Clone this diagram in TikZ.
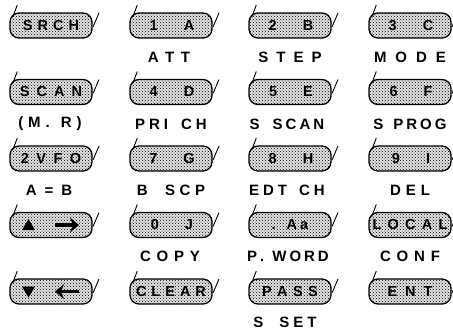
\documentclass[tikz,border=0pt]{standalone}
\usepackage{fontspec}
\setmainfont{Liberation Sans}
\usetikzlibrary{patterns,arrows.meta,calc}
\makeatletter
\newcommand\spaced[3][0pt]{\def\sp@gap{#2}\def\sp@wgap{#1}\sp@aux#3\relax}
\def\sp@aux#1{\ifx#1\relax\unskip\else\ifx#1|\hspace{\sp@wgap}\else#1\hspace{\sp@gap}\fi\expandafter\sp@aux\fi}
\makeatother
\tikzset{
  keybtn/.style={draw, line width=1.3pt, rounded corners=9pt, minimum width=82pt,
    minimum height=25pt, inner sep=0pt, preaction={fill=gray!22},
    pattern=crosshatch dots, pattern color=black,
    font=\bfseries\fontsize{14.5}{14.5}\selectfont},
  tickline/.style={line width=0.9pt},
  lbl/.style={inner sep=0pt, font=\bfseries\fontsize{15}{15}\selectfont},
  glyph/.style={fill=black},
  fatarrow/.style={line width=3.8pt, -{Stealth[length=9pt,width=15pt,inset=3pt]}}
}
\newcommand\kbtn[4]{%
  \node[keybtn] (#1) at (#2,#3) {#4};
  \draw[tickline] ($(#1.center)+(-38.3,-8.5)$) -- ++(4.6,-12);
  \draw[tickline] ($(#1.center)+(42,1.5)$) -- ++(6,-14);
}
\newcommand\two[2]{\hspace{2pt}#1\hspace{26pt}#2}
\begin{document}
\begin{tikzpicture}[x=1pt,y=-1pt]
\useasboundingbox (0,0) rectangle (453,333);
% row 1
\kbtn{srch}{51}{25.5}{\spaced{5pt}{SRCH}}
\kbtn{ka}{171}{25.5}{\two{1}{A}}
\kbtn{kb}{290}{25.5}{\two{2}{B}}
\kbtn{kc}{410}{25.5}{\two{3}{C}}
\node[lbl] (latt) at (169,57) {\spaced{6.5pt}{ATT}};
\node[lbl] (lstep) at (290,57) {\spaced{8pt}{STEP}};
\node[lbl] (lmode) at (410,57) {\spaced{9pt}{MODE}};
% row 2
\kbtn{scan}{51}{92}{\spaced{7pt}{SCAN}}
\kbtn{kd}{171}{92}{\two{4}{D}}
\kbtn{ke}{290}{92}{\two{5}{E}}
\kbtn{kf}{410}{92}{\two{6}{F}}
\node[lbl] (lmr) at (50,124) {\spaced[6pt]{5pt}{(M.|R)}};
\node[lbl] (lpri) at (171,124) {\spaced[9pt]{4pt}{PRI|CH}};
\node[lbl] (lss) at (287,124) {\spaced[10pt]{3pt}{S|SCAN}};
\node[lbl] (lsp) at (410,124) {\spaced[7pt]{3pt}{S|PROG}};
% row 3
\kbtn{vfo}{51}{158.5}{\spaced{7.5pt}{2VFO}}
\kbtn{kg}{171}{158.5}{\two{7}{G}}
\kbtn{kh}{290}{158.5}{\two{8}{H}}
\kbtn{ki}{410}{158.5}{\two{9}{I}}
\node[lbl] (lab) at (49,190) {\spaced{8pt}{A=B}};
\node[lbl] (lbscp) at (171,190) {\spaced[13pt]{4.5pt}{B|SCP}};
\node[lbl] (ledt) at (287,190) {\spaced[8pt]{4pt}{EDT|CH}};
\node[lbl] (ldel) at (410,190) {\spaced{5pt}{DEL}};
% row 4
\kbtn{up}{51}{225}{}
\fill[glyph] ($(up.center)+(-29,5)$) -- ++(13,0) -- ++(-6.5,-11) -- cycle;
\draw[fatarrow] ($(up.center)+(4,0)$) -- ($(up.center)+(28,0)$);
\kbtn{kj}{171}{225}{\two{0}{J}}
\kbtn{kaa}{290}{225}{\spaced[8pt]{3pt}{.|Aa}}
\kbtn{local}{410}{225}{\spaced{6.2pt}{LOCAL}}
\node[lbl] (lcopy) at (170,256) {\spaced{5.8pt}{COPY}};
\node[lbl] (lpw) at (288,256) {\spaced[5pt]{3pt}{P.|WORD}};
\node[lbl] (lconf) at (410,256) {\spaced{5.8pt}{CONF}};
% row 5
\kbtn{down}{51}{291.5}{}
\fill[glyph] ($(down.center)+(-29,-5)$) -- ++(13,0) -- ++(-6.5,11) -- cycle;
\draw[fatarrow] ($(down.center)+(28,0)$) -- ($(down.center)+(4,0)$);
\kbtn{clear}{171}{291.5}{\spaced{5pt}{CLEAR}}
\kbtn{pass}{290}{291.5}{\spaced{5.4pt}{PASS}}
\kbtn{ent}{410}{291.5}{\spaced{8pt}{ENT}}
\node[lbl] (lsset) at (285,322) {\spaced[12pt]{4pt}{S|SET}};
\end{tikzpicture}
\end{document}
